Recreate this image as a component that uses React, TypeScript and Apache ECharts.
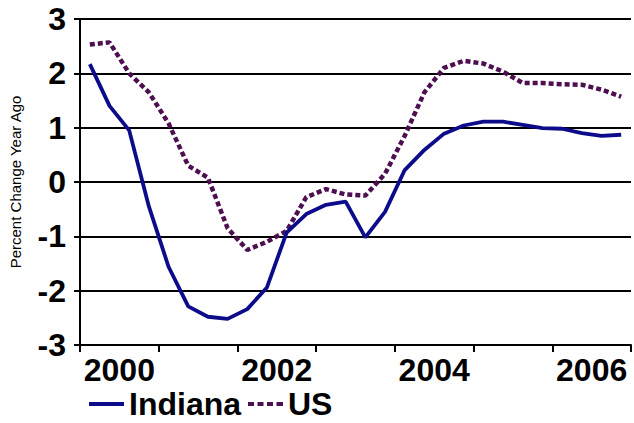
import React, { useEffect, useRef } from "react";
import * as echarts from "echarts";

const periods = [
  "2000Q1", "2000Q2", "2000Q3", "2000Q4",
  "2001Q1", "2001Q2", "2001Q3", "2001Q4",
  "2002Q1", "2002Q2", "2002Q3", "2002Q4",
  "2003Q1", "2003Q2", "2003Q3", "2003Q4",
  "2004Q1", "2004Q2", "2004Q3", "2004Q4",
  "2005Q1", "2005Q2", "2005Q3", "2005Q4",
  "2006Q1", "2006Q2", "2006Q3", "2006Q4",
];

const indiana = [
  2.17, 1.4, 0.95, -0.45,
  -1.56, -2.29, -2.48, -2.52,
  -2.34, -1.94, -0.93, -0.59,
  -0.42, -0.36, -1.02, -0.55,
  0.22, 0.59, 0.89, 1.04,
  1.11, 1.11, 1.05, 0.99,
  0.98, 0.9, 0.85, 0.87,
];

const us = [
  2.53, 2.57, 2.0, 1.65,
  1.08, 0.3, 0.08, -0.85,
  -1.25, -1.1, -0.9, -0.28,
  -0.13, -0.23, -0.25, 0.15,
  0.85, 1.65, 2.1, 2.23,
  2.18, 2.03, 1.82, 1.82,
  1.8, 1.79, 1.7, 1.57,
];

const yearLabels = ["2000", "2002", "2004", "2006"];

const toX = (p: string) => {
  const y = parseInt(p.slice(0, 4), 10);
  const q = parseInt(p.slice(5), 10);
  return y + (q - 0.5) / 4;
};

export default function App() {
  const ref = useRef<HTMLDivElement>(null);
  useEffect(() => {
    if (!ref.current) return;
    const chart = echarts.init(ref.current, null, { renderer: "svg" });
    const font = "Liberation Sans, Arial, sans-serif";
    chart.setOption({
      animation: false,
      backgroundColor: "#ffffff",
      grid: { left: 79, top: 19, width: 557, bottom: 78, containLabel: false },
      legend: {
        left: 84,
        top: 383,
        itemWidth: 35,
        itemHeight: 4,
        itemGap: 7,
        textStyle: {
          fontFamily: font,
          fontWeight: "bold",
          fontSize: 32,
          lineHeight: 28,
          color: "#000",
        },
        data: [
          { name: "Indiana", icon: "path://M0,0L35,0L35,4L0,4Z" },
          {
            name: "US",
            icon: "path://M0,0h6v4h-6zM9.5,0h6v4h-6zM19,0h6v4h-6zM28.5,0h6.5v4h-6.5z",
          },
        ],
      },
      xAxis: [
        {
          type: "value",
          min: 2000,
          max: 2007,
          interval: 1,
          position: "bottom",
          axisLine: { show: true, onZero: false, lineStyle: { color: "#000", width: 2 } },
          axisTick: { show: true, length: 7, lineStyle: { color: "#000", width: 2 } },
          axisLabel: { show: false },
          splitLine: { show: false },
        },
        {
          type: "value",
          min: 2000,
          max: 2007,
          interval: 0.5,
          position: "bottom",
          axisLine: { show: false },
          axisTick: { show: false },
          splitLine: { show: false },
          axisLabel: {
            show: true,
            margin: 9,
            fontFamily: font,
            fontWeight: "bold",
            fontSize: 32,
            color: "#000",
            formatter: (v: number) => {
              const s = String(Math.floor(v));
              return Math.abs(v - Math.floor(v) - 0.5) < 1e-6 && yearLabels.includes(s) ? s : "";
            },
          },
        },
      ],
      yAxis: {
        type: "value",
        min: -3,
        max: 3,
        interval: 1,
        name: "Percent Change Year Ago",
        nameLocation: "middle",
        nameRotate: 90,
        nameGap: 57,
        nameTextStyle: { fontFamily: font, fontSize: 15, color: "#000" },
        axisLine: { show: true, lineStyle: { color: "#000", width: 2 } },
        axisTick: { show: true, length: 6, lineStyle: { color: "#000", width: 2 } },
        axisLabel: {
          margin: 14,
          fontFamily: font,
          fontWeight: "bold",
          fontSize: 32,
          color: "#000",
        },
        splitLine: { show: true, lineStyle: { color: "#000", width: 2 } },
      },
      series: [
        {
          name: "Indiana",
          type: "line",
          xAxisIndex: 0,
          data: periods.map((p, i) => [toX(p), indiana[i]]),
          showSymbol: false,
          symbol: "none",
          color: "#0c0c8a",
          lineStyle: { color: "#0c0c8a", width: 3.8 },
          z: 3,
        },
        {
          name: "US",
          type: "line",
          xAxisIndex: 0,
          data: periods.map((p, i) => [toX(p), us[i]]),
          showSymbol: false,
          symbol: "none",
          color: "#4d0f4f",
          lineStyle: { color: "#4d0f4f", width: 4.5, type: [5, 3] },
          z: 2,
        },
      ],
    });
    return () => chart.dispose();
  }, []);
  return (
    <div
      ref={ref}
      style={{ position: "absolute", left: 0, top: 0, width: 634, height: 423 }}
    />
  );
}
